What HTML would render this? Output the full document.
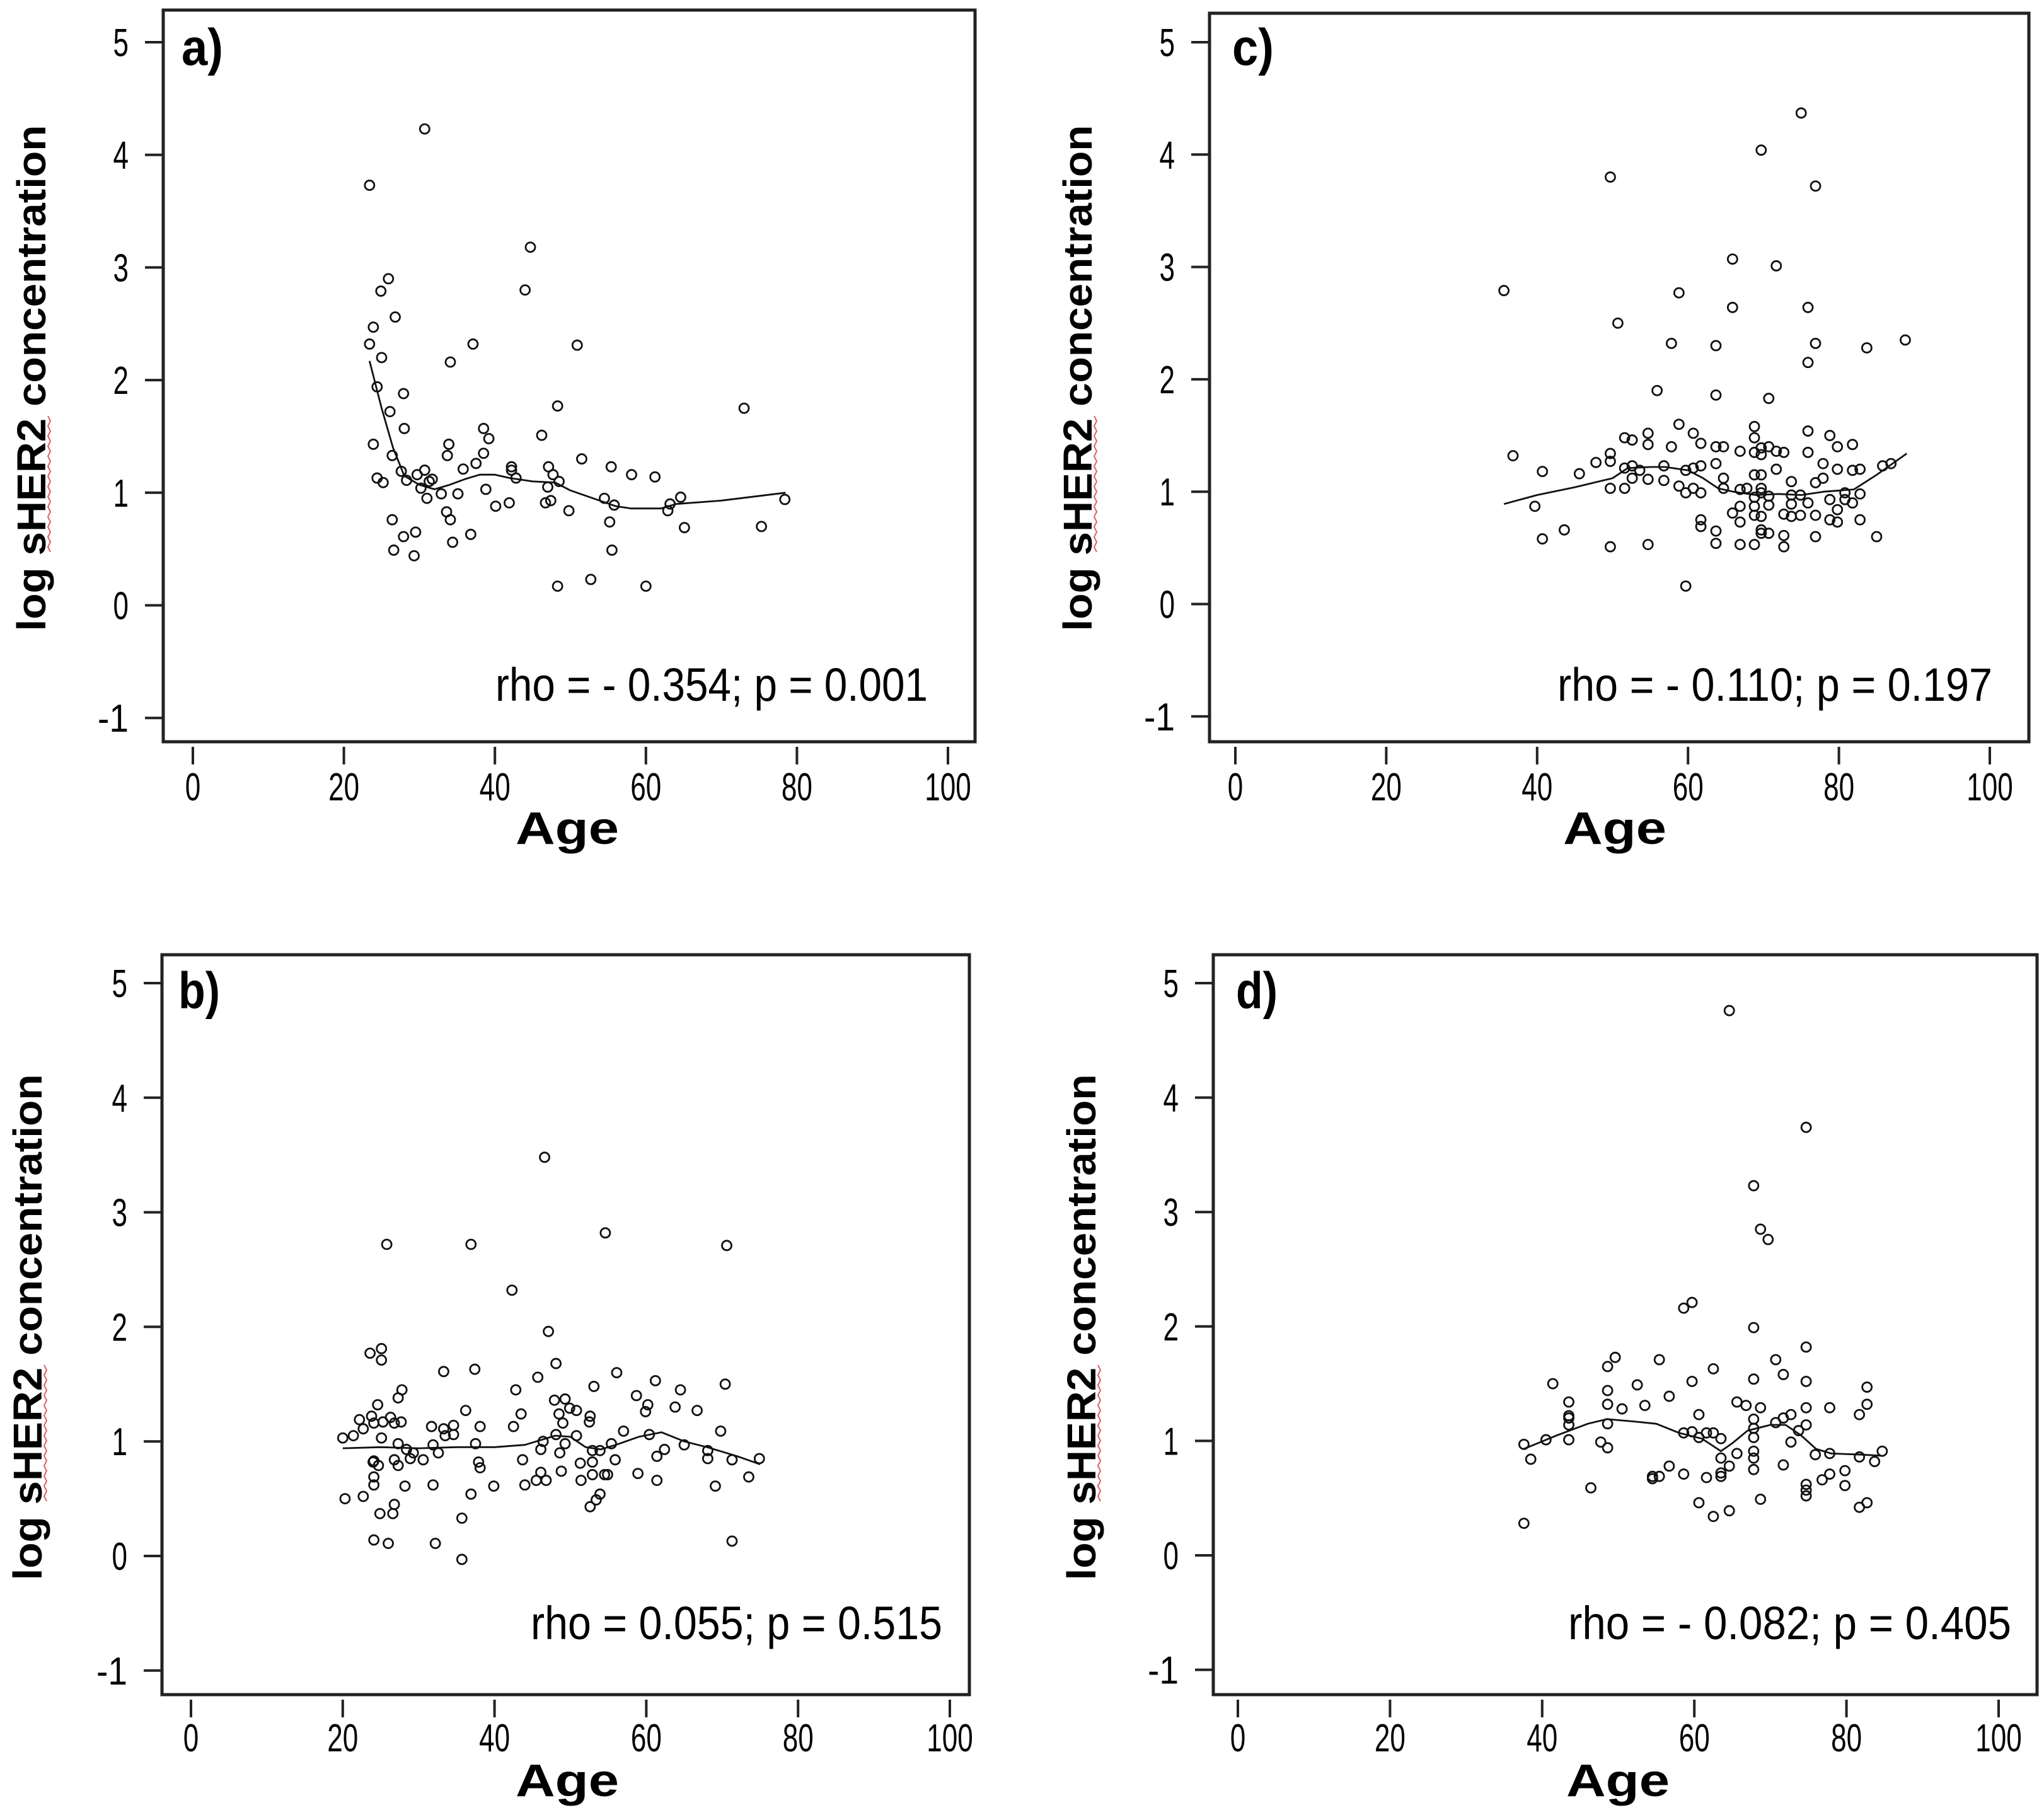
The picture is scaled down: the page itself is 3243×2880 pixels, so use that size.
<!DOCTYPE html>
<html><head><meta charset="utf-8">
<style>
html,body{margin:0;padding:0;background:#fff;}
svg{display:block;}
text{font-family:"Liberation Sans",sans-serif;fill:#000;}
</style></head>
<body>
<svg id="fig" width="3243" height="2880" viewBox="0 0 3243 2880" xmlns="http://www.w3.org/2000/svg"></svg>
<script>
// ---------- data ----------
const xTicks = [0, 20, 40, 60, 80, 100];
const yTicks = [-1, 0, 1, 2, 3, 4, 5];
const panelLabels = ["a)", "b)", "c)", "d)"];
const statLabels = ["rho = - 0.354; p = 0.001", "rho = 0.055; p = 0.515", "rho = - 0.110; p = 0.197", "rho = - 0.082; p = 0.405"];

const aAge = [23.4,30.7,25.9,24.9,23.9,26.8,23.4,25.0,24.4,27.9,26.1,28.0,23.9,26.4,24.4,25.2,27.6,28.3,29.7,30.7,31.3,31.7,30.2,31.0,32.9,33.7,33.9,34.1,37.1,35.1,35.8,37.5,38.5,39.2,38.5,38.8,40.1,41.9,42.2,42.2,42.8,33.6,34.1,34.4,36.8,26.4,26.6,27.9,29.5,29.3,44.0,44.7,50.9,48.3,46.2,47.1,47.7,48.5,47.0,46.7,47.4,49.8,48.3,51.5,52.7,54.5,55.8,55.4,55.2,55.5,58.1,60.0,61.2,62.9,63.2,64.6,65.1,73.0,75.3,78.4];
const aVal = [3.73,4.23,2.90,2.79,2.47,2.56,2.32,2.20,1.94,1.88,1.72,1.57,1.43,1.33,1.13,1.09,1.19,1.11,1.16,1.20,1.10,1.12,1.04,0.95,0.99,1.33,1.43,2.16,2.32,0.99,1.21,1.26,1.57,1.48,1.35,1.03,0.88,0.91,1.23,1.20,1.13,0.83,0.76,0.56,0.63,0.76,0.49,0.61,0.65,0.44,2.80,3.18,2.31,1.77,1.51,1.23,1.16,1.10,1.05,0.91,0.93,0.84,0.17,1.30,0.23,0.95,0.89,1.23,0.74,0.49,1.16,0.17,1.14,0.84,0.90,0.96,0.69,1.75,0.70,0.94];
const aFitAge = [23.4,25,26.5,28,30,32,34,36,38,40,42,45,48,50,53,56,58,62,64,70,78.5];
const aFitVal = [2.17,1.75,1.4,1.15,1.07,1.03,1.07,1.12,1.16,1.16,1.13,1.10,1.09,1.02,0.95,0.88,0.86,0.86,0.90,0.93,1.00];

const bAge = [46.6,25.8,36.9,54.6,70.6,42.3,47.1,23.6,25.1,25.1,33.3,37.4,48.1,56.1,45.7,42.8,53.1,61.2,64.5,70.4,27.8,27.3,24.6,58.7,60.2,59.9,63.8,66.7,47.9,49.3,49.9,50.8,48.5,52.6,52.5,49.0,43.5,42.5,36.2,38.1,34.6,33.3,31.7,33.5,34.6,22.2,23.8,22.7,24.1,25.3,26.3,26.8,27.7,20.0,21.4,25.1,27.3,28.4,29.3,28.9,30.6,31.9,32.6,37.5,24.0,24.1,24.7,26.8,27.3,24.1,24.1,28.2,31.9,37.9,38.1,39.9,36.9,43.7,44.0,45.5,46.1,46.8,46.1,46.4,48.6,49.3,48.1,50.8,48.8,51.3,51.4,52.9,52.9,52.9,53.9,54.5,54.9,55.4,55.9,53.9,53.4,52.6,57.0,58.9,60.4,61.4,62.4,61.4,65.0,68.1,68.1,69.8,69.1,71.3,73.5,74.9,20.3,22.7,24.9,26.6,26.8,24.1,26.0,32.2,35.7,35.7,71.3];
const bVal = [3.48,2.72,2.72,2.82,2.71,2.32,1.96,1.77,1.81,1.71,1.61,1.63,1.68,1.60,1.56,1.45,1.48,1.53,1.45,1.50,1.45,1.38,1.32,1.40,1.32,1.26,1.30,1.27,1.36,1.37,1.29,1.27,1.24,1.22,1.17,1.16,1.24,1.13,1.27,1.13,1.14,1.11,1.13,1.05,1.06,1.19,1.22,1.11,1.16,1.17,1.21,1.16,1.17,1.03,1.05,1.03,0.98,0.93,0.90,0.85,0.84,0.97,0.90,0.98,0.82,0.83,0.79,0.84,0.79,0.69,0.62,0.61,0.62,0.82,0.77,0.61,0.54,0.84,0.62,0.66,0.73,0.66,0.93,1.00,0.90,0.98,1.06,1.05,0.74,0.81,0.66,0.92,0.82,0.71,0.92,0.71,0.71,0.98,0.84,0.54,0.49,0.43,1.09,0.72,1.06,0.87,0.93,0.66,0.97,0.92,0.85,1.09,0.61,0.84,0.69,0.85,0.50,0.52,0.37,0.37,0.45,0.14,0.11,0.11,0.33,-0.03,0.13];
const bFitAge = [20,25,30,35,40,44,48,50,52,54,56,59,62,65,68,72,75];
const bFitVal = [0.94,0.95,0.94,0.95,0.95,0.97,1.05,1.04,0.95,0.93,0.97,1.04,1.08,1.00,0.95,0.87,0.80];

const cAge = [75.0,69.7,49.7,76.9,65.9,71.7,35.6,58.8,65.9,75.9,50.7,57.8,63.7,76.9,83.7,88.8,75.9,55.9,63.7,70.7,36.8,40.7,39.7,40.7,43.6,45.6,47.8,49.7,49.7,49.7,49.7,51.6,52.6,51.6,51.6,52.6,52.6,53.6,54.7,54.7,54.7,54.7,56.8,56.8,57.8,58.8,58.8,59.7,59.7,59.7,60.7,60.7,60.7,61.7,61.7,61.7,61.7,61.7,63.7,64.7,63.7,64.7,64.7,63.7,63.7,65.9,66.9,66.9,66.9,66.9,66.9,67.8,68.8,68.8,68.8,68.8,68.8,68.8,68.8,68.8,69.7,69.7,69.7,69.7,69.7,69.7,69.7,69.7,70.7,70.7,70.7,70.7,71.7,71.7,72.7,72.7,72.7,72.7,73.7,73.7,73.7,73.7,74.9,74.9,75.9,75.9,75.9,76.9,76.9,76.9,77.9,77.9,78.8,78.8,78.8,79.8,79.8,79.8,79.8,80.8,80.8,81.8,81.8,81.8,82.8,82.8,82.8,85.0,85.8,86.9];
const cVal = [4.37,4.04,3.80,3.72,3.07,3.01,2.79,2.77,2.64,2.64,2.50,2.32,2.30,2.32,2.28,2.35,2.15,1.90,1.86,1.83,1.32,1.18,0.87,0.58,0.66,1.16,1.26,1.34,1.27,1.03,0.51,1.48,1.46,1.03,1.21,1.23,1.12,1.19,1.52,1.42,1.11,0.53,1.23,1.10,1.40,1.60,1.05,1.19,0.99,0.16,1.52,1.21,1.03,1.43,1.23,0.99,0.75,0.69,1.40,1.40,1.25,1.12,1.03,0.65,0.54,0.81,1.36,1.02,0.87,0.73,0.53,1.03,1.58,1.48,1.35,1.15,0.95,0.87,0.79,0.53,1.39,1.33,1.15,1.03,0.99,0.78,0.66,0.63,1.40,0.96,0.88,0.63,1.36,1.20,1.35,0.80,0.61,0.51,1.09,0.97,0.89,0.78,0.97,0.79,1.54,1.35,0.90,1.08,0.79,0.60,1.25,1.12,1.50,0.93,0.75,1.40,1.20,0.84,0.73,0.99,0.93,1.42,1.19,0.90,1.20,0.98,0.75,0.60,1.23,1.25];
const cFitAge = [35.6,40,45,50,52,55,57,60,62,64,66,69,72,75,78,82,85,89];
const cFitVal = [0.89,0.97,1.04,1.12,1.21,1.22,1.22,1.19,1.12,1.03,1.00,0.97,0.98,0.97,1.00,1.02,1.15,1.34];

const dAge = [37.6,37.6,38.5,40.5,41.4,43.5,43.5,43.5,43.5,43.5,46.4,47.7,48.6,48.6,48.6,48.6,48.6,49.6,50.5,52.5,53.5,54.5,54.5,55.4,55.4,56.7,56.7,58.6,59.7,58.6,59.7,59.7,58.6,60.6,60.6,60.6,61.6,61.6,62.5,62.5,62.5,63.5,63.5,63.5,63.5,64.6,64.6,64.6,65.6,65.6,66.8,67.8,67.8,67.8,67.8,67.8,67.8,67.8,67.8,67.8,68.7,69.7,68.7,68.7,70.7,70.7,71.7,71.7,71.7,72.7,72.7,73.7,74.7,74.7,74.7,74.7,74.7,74.7,74.7,74.7,75.9,76.8,77.8,77.8,77.8,79.8,79.8,81.7,81.7,81.7,82.7,82.7,82.7,83.7,84.7];
const dVal = [0.97,0.28,0.84,1.01,1.50,1.34,1.22,1.20,1.14,1.01,0.59,0.99,0.94,1.15,1.32,1.44,1.65,1.73,1.28,1.49,1.31,0.67,0.69,0.69,1.71,0.78,1.39,2.16,2.21,1.07,1.08,1.52,0.71,1.23,1.03,0.46,0.68,1.07,1.07,1.63,0.34,1.02,0.85,0.72,0.69,4.76,0.78,0.39,1.34,0.89,1.31,3.23,1.99,1.54,1.19,1.11,1.03,0.91,0.85,0.75,2.85,2.76,1.29,0.49,1.71,1.16,1.58,1.20,0.79,1.23,0.99,1.09,3.74,1.82,1.52,1.29,1.14,0.62,0.57,0.52,0.88,0.66,1.29,0.89,0.71,0.74,0.61,1.23,0.86,0.42,1.47,1.32,0.46,0.82,0.91];
const dFitAge = [37.6,42,46,48.5,52,55,58,61,63.5,65,67,70,72,74,76,78,82,84.7];
const dFitVal = [0.93,1.05,1.15,1.19,1.17,1.15,1.07,1.02,0.91,0.98,1.09,1.14,1.14,1.05,0.93,0.89,0.88,0.87];

// ---------- layout ----------
const NS = "http://www.w3.org/2000/svg";
const svg = document.getElementById("fig");
function mk(tag, attrs, parent) {
  const e = document.createElementNS(NS, tag);
  for (const k in attrs) e.setAttribute(k, attrs[k]);
  (parent || svg).appendChild(e);
  return e;
}
const panels = [
  {key:"a", label:panelLabels[0], stat:statLabels[0], age:aAge, val:aVal, fa:aFitAge, fv:aFitVal,
   box:[259,16,1547,1177], x0:306, x100:1504, y5:67, yUnit:178.7, tickLabY:1270, ageY:1339, ageX:900,
   titleX:72, titleY:600, statR:1472, statW:686, statY:1112, labX:288, labY:103},
  {key:"b", label:panelLabels[1], stat:statLabels[1], age:bAge, val:bVal, fa:bFitAge, fv:bFitVal,
   box:[257,1515,1538,2689], x0:303, x100:1507, y5:1560, yUnit:181.8, tickLabY:2779, ageY:2850, ageX:900,
   titleX:66, titleY:2106, statR:1495, statW:653, statY:2601, labX:283, labY:1600},
  {key:"c", label:panelLabels[2], stat:statLabels[2], age:cAge, val:cVal, fa:cFitAge, fv:cFitVal,
   box:[1919,21,3219,1177], x0:1960, x100:3157, y5:67, yUnit:178.3, tickLabY:1270, ageY:1339, ageX:2562,
   titleX:1732, titleY:600, statR:3161, statW:690, statY:1112, labX:1955, labY:103},
  {key:"d", label:panelLabels[3], stat:statLabels[3], age:dAge, val:dVal, fa:dFitAge, fv:dFitVal,
   box:[1925,1515,3232,2689], x0:1964, x100:3171, y5:1560, yUnit:181.6, tickLabY:2779, ageY:2850, ageX:2567,
   titleX:1738, titleY:2106, statR:3191, statW:703, statY:2601, labX:1961, labY:1600}
];

panels.forEach(p => {
  const g = mk("g", {});
  
  
  const xs = v => p.x0 + (p.x100 - p.x0) * v / 100;
  const ys = v => p.y5 + (5 - v) * p.yUnit;
  const [L, T, R, B] = p.box;

  const frame = mk("rect", {x:L, y:T, width:R-L, height:B-T, fill:"none", stroke:"#222", "stroke-width":5}, g);
  
  

  xTicks.forEach(t => {
    const x = xs(t);
    const tk = mk("line", {x1:x, x2:x, y1:B+8, y2:B+36, stroke:"#222", "stroke-width":4}, g);
    
    
    const s = String(t);
    const lb = mk("text", {x:x, y:p.tickLabY, "text-anchor":"middle", "font-size":62, textLength:s.length*24.5, lengthAdjust:"spacingAndGlyphs"}, g);
    lb.textContent = s;
    
    
  });
  yTicks.forEach(t => {
    const y = ys(t);
    const tk = mk("line", {x1:L-29, x2:L, y1:y, y2:y, stroke:"#222", "stroke-width":4}, g);
    
    
    const s = String(t);
    const lb = mk("text", {x:L-55, y:y+22, "text-anchor":"end", "font-size":62, textLength:s.length*24.5, lengthAdjust:"spacingAndGlyphs"}, g);
    lb.textContent = s;
    
    
  });

  const xt = mk("text", {x:p.ageX, y:p.ageY, "text-anchor":"middle", "font-size":72, "font-weight":"bold", textLength:164, lengthAdjust:"spacingAndGlyphs"}, g);
  xt.textContent = "Age";
  
  
  const yt = mk("text", {x:0, y:0, "text-anchor":"middle", "font-size":64, "font-weight":"bold", textLength:803, lengthAdjust:"spacingAndGlyphs",
    transform:"translate(" + p.titleX + "," + p.titleY + ") rotate(-90)"}, g);
  yt.textContent = "log sHER2 concentration";
  
  
  let zz = "";
  const zs = p.titleY + 60, ze = p.titleY + 280;
  for (let i = 0, y = zs; y <= ze; i++, y += 8) zz += (p.titleX + 4 + (i % 2 ? 4 : 0)) + "," + y + " ";
  const sq = mk("polyline", {points:zz, fill:"none", stroke:"#e06060", "stroke-width":2}, g);
  
  

  const pl = mk("text", {x:p.labX, y:p.labY, "font-size":82, "font-weight":"bold", textLength:66, lengthAdjust:"spacingAndGlyphs"}, g);
  pl.textContent = p.label;
  
  

  const st = mk("text", {x:p.statR, y:p.statY, "text-anchor":"end", "font-size":74, textLength:p.statW, lengthAdjust:"spacingAndGlyphs"}, g);
  st.textContent = p.stat;
  
  

  p.age.forEach((a, i) => {
    const c = mk("circle", {cx:xs(a), cy:ys(p.val[i]), r:7.5, fill:"none", stroke:"#111", "stroke-width":2.8}, g);
    
    
  });

  const pts = p.fa.map((a, i) => xs(a).toFixed(1) + "," + ys(p.fv[i]).toFixed(1)).join(" ");
  const ln = mk("polyline", {points:pts, fill:"none", stroke:"#111", "stroke-width":2.8, "stroke-linejoin":"round"}, g);
  
  
});
</script>
</body></html>
